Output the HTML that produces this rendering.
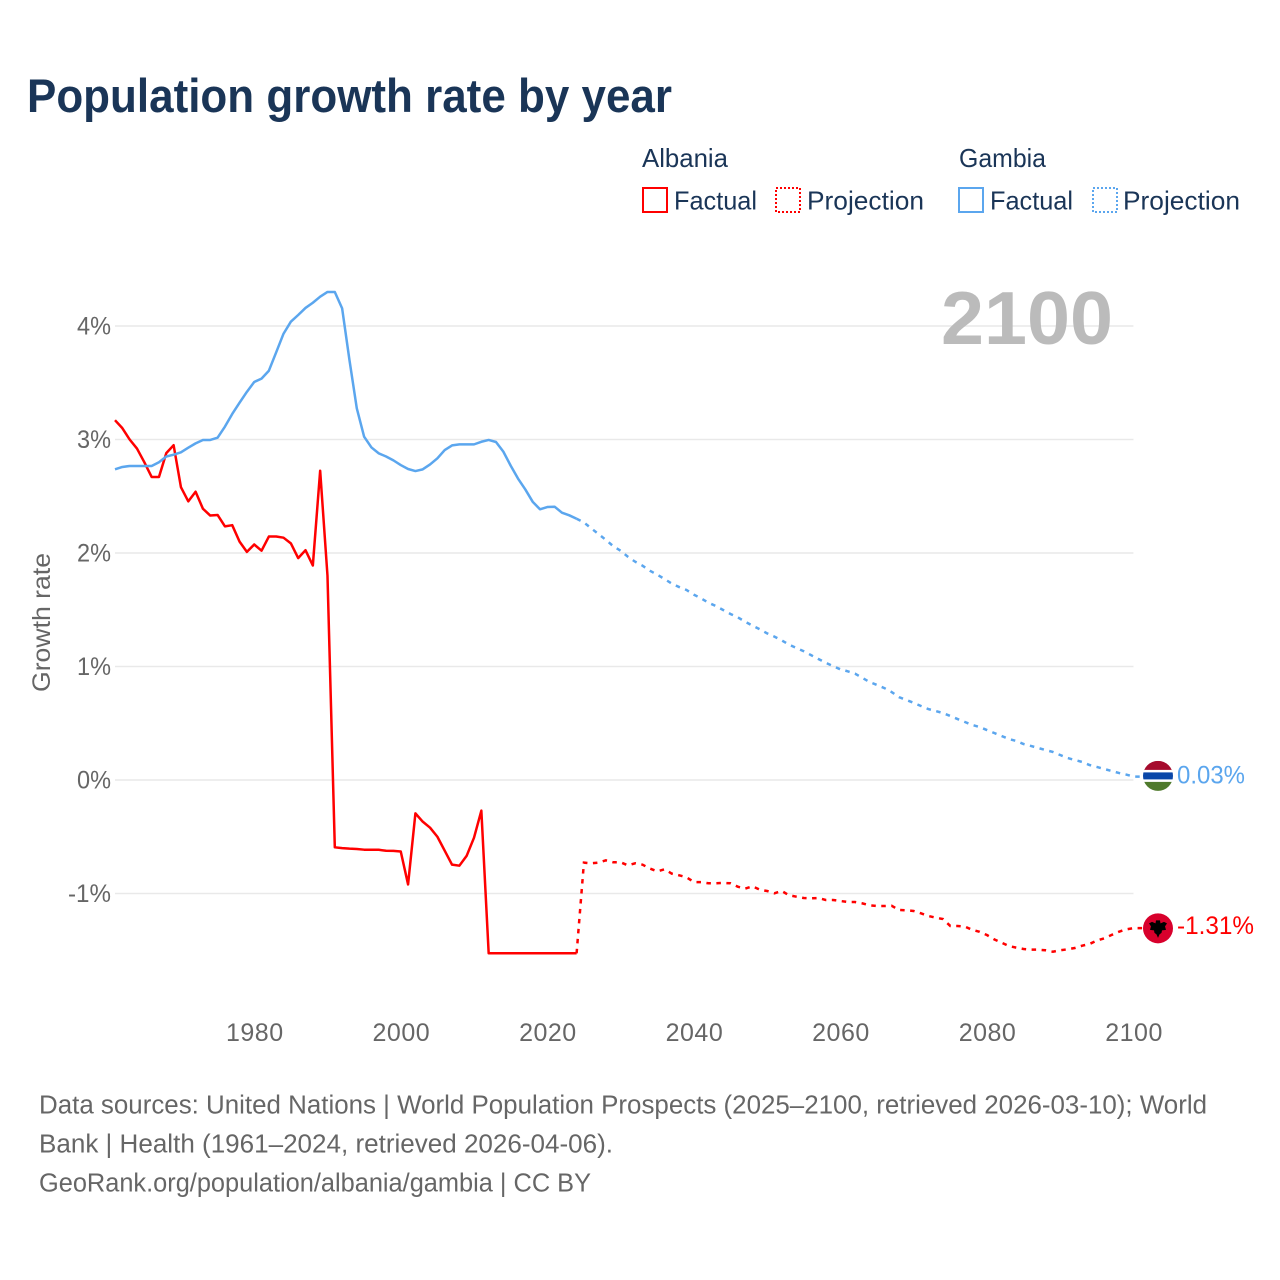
<!DOCTYPE html>
<html lang="en">
<head>
<meta charset="utf-8">
<title>Population growth rate by year</title>
<style>
html,body{margin:0;padding:0;background:#fff;width:1280px;height:1280px;overflow:hidden}
svg{display:block;font-family:"Liberation Sans",sans-serif}
.tick{font-size:25px;fill:#666}
.xtick{letter-spacing:.5px}
.foot{font-size:25.5px;fill:#666}
.leg{font-size:26px;fill:#1a3557}
</style>
</head>
<body>
<svg id="chart" width="1280" height="1280" viewBox="0 0 1280 1280" xmlns="http://www.w3.org/2000/svg">
  <defs>
    <clipPath id="clip-gm"><circle id="clip-gm-c" cx="1158" cy="776" r="15"/></clipPath>
  </defs>
  <text x="27" y="112" font-size="47" font-weight="700" fill="#1a3557" textLength="645" lengthAdjust="spacingAndGlyphs">Population growth rate by year</text>

  <g>
    <text class="leg" x="642" y="167" textLength="86" lengthAdjust="spacingAndGlyphs">Albania</text>
    <text class="leg" x="959" y="167" textLength="87" lengthAdjust="spacingAndGlyphs">Gambia</text>
    <rect x="643" y="188" width="24" height="24" fill="none" stroke="#ff0000" stroke-width="2"/>
    <text class="leg" x="674" y="209.5" textLength="83" lengthAdjust="spacingAndGlyphs">Factual</text>
    <rect x="776" y="188" width="24" height="24" fill="none" stroke="#ff0000" stroke-width="2" stroke-dasharray="2 2"/>
    <text class="leg" x="807" y="209.5" textLength="117" lengthAdjust="spacingAndGlyphs">Projection</text>
    <rect x="959" y="188" width="24" height="24" fill="none" stroke="#5ba6ee" stroke-width="2"/>
    <text class="leg" x="990" y="209.5" textLength="83" lengthAdjust="spacingAndGlyphs">Factual</text>
    <rect x="1093" y="188" width="24" height="24" fill="none" stroke="#5ba6ee" stroke-width="2" stroke-dasharray="2 2"/>
    <text class="leg" x="1123" y="209.5" textLength="117" lengthAdjust="spacingAndGlyphs">Projection</text>
  </g>

  <g id="grid"></g>
  <text x="941" y="344" font-size="75" font-weight="700" fill="#bbbbbb" textLength="172" lengthAdjust="spacingAndGlyphs">2100</text>
  <g id="yticks"></g>
  <g id="xticks"></g>
  <text transform="translate(50,692) rotate(-90)" font-size="25" fill="#666" textLength="139" lengthAdjust="spacingAndGlyphs">Growth rate</text>
  <g id="series"></g>
  <g id="markers"></g>

  <g>
    <text class="foot" x="39" y="1113.5" textLength="1168" lengthAdjust="spacingAndGlyphs">Data sources: United Nations | World Population Prospects (2025–2100, retrieved 2026-03-10); World</text>
    <text class="foot" x="39" y="1152.5" textLength="574" lengthAdjust="spacingAndGlyphs">Bank | Health (1961–2024, retrieved 2026-04-06).</text>
    <text class="foot" x="39" y="1191.5" textLength="552" lengthAdjust="spacingAndGlyphs">GeoRank.org/population/albania/gambia | CC BY</text>
  </g>
</svg>
<script>
const firstYear = 1961;
const lastFactualYear = 2024;
const xTickYears = [1980, 2000, 2020, 2040, 2060, 2080, 2100];
const yTickValues = [4, 3, 2, 1, 0, -1];
const albaniaFactual = [
3.17,3.10,3.00,2.92,2.80,2.67,2.67,2.88,2.95,2.58,
2.455,2.54,2.39,2.33,2.335,2.235,2.245,2.10,2.01,2.075,
2.02,2.145,2.145,2.135,2.085,1.955,2.025,1.89,2.725,1.80,
-0.593,-0.60,-0.605,-0.608,-0.614,-0.614,-0.615,-0.623,-0.624,-0.63,
-0.92,-0.294,-0.367,-0.42,-0.50,-0.623,-0.746,-0.755,-0.667,-0.508,
-0.27,-1.527,-1.527,-1.527,-1.527,-1.527,-1.527,-1.527,-1.527,-1.527,
-1.527,-1.527,-1.527,-1.527];
const albaniaProjection = [
-0.728,-0.734,-0.728,-0.708,-0.725,-0.725,-0.752,-0.734,-0.746,-0.78,
-0.805,-0.787,-0.825,-0.84,-0.857,-0.899,-0.90,-0.91,-0.91,-0.907,
-0.91,-0.94,-0.957,-0.937,-0.966,-0.978,-0.998,-0.978,-1.016,-1.028,
-1.04,-1.042,-1.04,-1.057,-1.057,-1.066,-1.075,-1.075,-1.087,-1.104,
-1.11,-1.11,-1.108,-1.145,-1.148,-1.154,-1.175,-1.198,-1.213,-1.225,
-1.286,-1.286,-1.292,-1.32,-1.337,-1.366,-1.404,-1.433,-1.463,-1.477,
-1.489,-1.495,-1.495,-1.50,-1.513,-1.50,-1.492,-1.48,-1.46,-1.445,
-1.415,-1.395,-1.366,-1.337,-1.316,-1.305];
const gambiaFactual = [
2.737,2.758,2.767,2.767,2.767,2.767,2.80,2.85,2.866,2.887,
2.928,2.966,2.996,2.996,3.016,3.113,3.225,3.324,3.42,3.507,
3.536,3.606,3.768,3.932,4.038,4.097,4.159,4.205,4.258,4.30,
4.30,4.155,3.70,3.275,3.025,2.93,2.878,2.85,2.816,2.775,
2.74,2.722,2.737,2.78,2.834,2.907,2.948,2.957,2.957,2.957,
2.98,2.996,2.978,2.893,2.77,2.656,2.56,2.452,2.385,2.405,
2.408,2.355,2.332,2.302];
const gambiaProjection = [
2.269,2.217,2.167,2.115,2.06,2.02,1.967,1.923,1.888,1.844,
1.809,1.771,1.73,1.70,1.674,1.633,1.60,1.562,1.533,1.498,
1.463,1.433,1.395,1.36,1.328,1.292,1.263,1.23,1.192,1.163,
1.134,1.10,1.066,1.033,1.004,0.975,0.958,0.937,0.90,0.863,
0.837,0.81,0.775,0.73,0.705,0.68,0.652,0.625,0.608,0.59,
0.564,0.537,0.511,0.485,0.467,0.44,0.414,0.388,0.361,0.344,
0.317,0.30,0.282,0.264,0.247,0.22,0.194,0.176,0.159,0.132,
0.115,0.097,0.08,0.062,0.048,0.03];
const albaniaEndLabel = "-1.31%";
const gambiaEndLabel = "0.03%";

const NS = "http://www.w3.org/2000/svg";
const RED = "#ff0000";
const BLUE = "#5ba6ee";
function xScale(year){ return 115 + (year - 1961) * 7.327; }
function yScale(value){ return 780 - value * 113.5; }
function make(tag, attrs, parent){
  const el = document.createElementNS(NS, tag);
  for (const k in attrs) el.setAttribute(k, attrs[k]);
  parent.appendChild(el);
  return el;
}
function pointsFor(values, startYear){
  return values.map(function(v, i){
    return xScale(startYear + i).toFixed(2) + "," + yScale(v).toFixed(2);
  });
}

const grid = document.getElementById("grid");
const yticks = document.getElementById("yticks");
const xticks = document.getElementById("xticks");
const seriesGroup = document.getElementById("series");
const markers = document.getElementById("markers");

yTickValues.forEach(function(v){
  const line = make("line", {x1: xScale(firstYear), x2: xScale(2100), y1: yScale(v), y2: yScale(v), stroke: "#e9e9e9", "stroke-width": 1.5}, grid);
  
  
  const t = make("text", {x: 111, y: yScale(v) + 8.5, "text-anchor": "end", class: "tick", textLength: v < 0 ? 43 : 34, lengthAdjust: "spacingAndGlyphs"}, yticks);
  t.textContent = v + "%";
  
  
});

xTickYears.forEach(function(y){
  const t = make("text", {x: xScale(y) + 0.6, y: 1041, "text-anchor": "middle", class: "tick xtick"}, xticks);
  t.textContent = String(y);
  
  
});

function drawSeries(factual, projection, color, endLabel, labelDy, labelWidth){
  const lastF = factual[factual.length - 1];
  const f = make("polyline", {points: pointsFor(factual, firstYear).join(" "), fill: "none", stroke: color, "stroke-width": 2.5, "stroke-linejoin": "round"}, seriesGroup);
  
  
  const projPts = pointsFor([lastF].concat(projection), lastFactualYear);
  const lastV = projection[projection.length - 1];
  projPts.push("1143," + yScale(lastV).toFixed(2));
  const p = make("polyline", {points: projPts.join(" "), fill: "none", stroke: color, "stroke-width": 2.5, "stroke-dasharray": "4.5 5.5"}, seriesGroup);
  
  
  const lab = make("text", {x: 1177, y: yScale(lastV) + labelDy, "font-size": 25, fill: color, textLength: labelWidth, lengthAdjust: "spacingAndGlyphs"}, markers);
  lab.textContent = endLabel;
  
  
  return yScale(lastV);
}

const yAl = drawSeries(albaniaFactual, albaniaProjection, RED, albaniaEndLabel, 6, 77);
const yGm = drawSeries(gambiaFactual, gambiaProjection, BLUE, gambiaEndLabel, 7, 68);

// Gambia flag marker
document.getElementById("clip-gm-c").setAttribute("cy", yGm - 0.7);
const gm = make("g", {"clip-path": "url(#clip-gm)"}, markers);


const gy = yGm - 0.7;
make("rect", {x: 1143, y: gy - 15, width: 30, height: 9.5, fill: "#a50b2d"}, gm);
make("rect", {x: 1143, y: gy - 6, width: 30, height: 12, fill: "#ffffff"}, gm);
make("rect", {x: 1143, y: gy - 3.5, width: 30, height: 7, fill: "#0a47a9"}, gm);
make("rect", {x: 1143, y: gy + 6, width: 30, height: 9.5, fill: "#4f7a2c"}, gm);

// Albania flag marker
const al = make("g", {}, markers);


make("circle", {cx: 1158, cy: yAl + 0.2, r: 15, fill: "#d8002c"}, al);
make("path", {transform: "translate(1158," + (yAl + 0.2) + ")", fill: "#000", d: "M-2,-8 L2,-8 L2.5,-5 L6,-6.5 L9,-5 L7,-2 L8,1.5 L4,2 L3.5,4.5 L1.5,6 L0,9.5 L-1.5,6 L-3.5,4.5 L-4,2 L-8,1.5 L-7,-2 L-9,-5 L-6,-6.5 L-2.5,-5 Z"}, al);
</script>
</body>
</html>
